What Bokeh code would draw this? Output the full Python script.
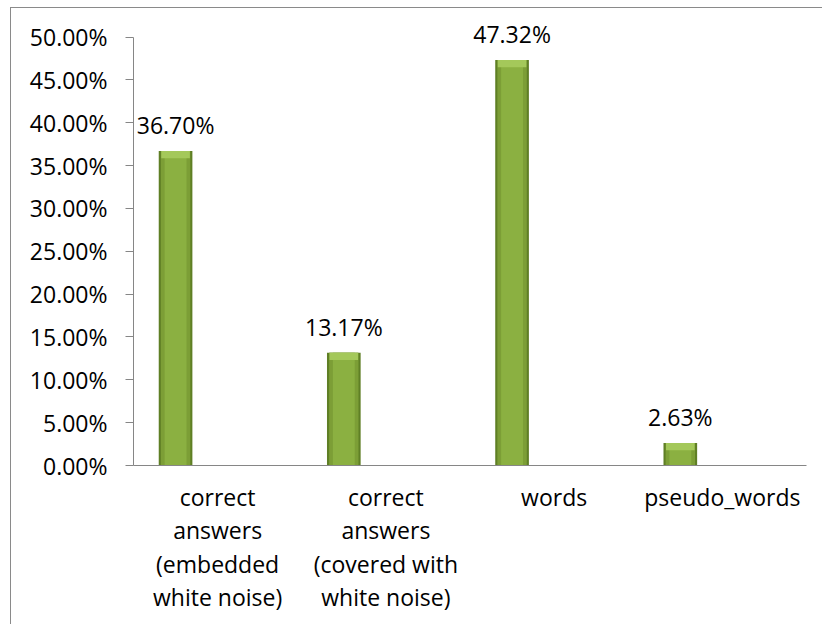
from bokeh.plotting import figure
from bokeh.models import ColumnDataSource, FactorRange, Range1d, PrintfTickFormatter, FixedTicker
from bokeh.transform import dodge
from bokeh.core.properties import value
from bokeh.embed import file_html
from bokeh.resources import INLINE

categories = ["correct\nanswers\n(embedded\nwhite noise)",
              "correct\nanswers\n(covered with\nwhite noise)",
              "words",
              "pseudo_words"]
values = [36.70, 13.17, 47.32, 2.63]
value_labels = ["36.70%", "13.17%", "47.32%", "2.63%"]
y_ticks = [0, 5, 10, 15, 20, 25, 30, 35, 40, 45, 50]

FONT = "Open Sans"
FS = "23px"
GRAY = "#868686"

src = ColumnDataSource(dict(
    cat=categories, val=values, lab=value_labels,
    bev=[v - 0.85 for v in values],
))

p = figure(x_range=FactorRange(*categories, range_padding=0),
           y_range=Range1d(0, 53.1),
           width=812, height=617,
           output_backend="svg", toolbar_location=None,
           min_border_left=122, min_border_right=17,
           min_border_top=2, min_border_bottom=160,
           styles={"margin-left": "10px", "margin-top": "7px",
                   "border-top": "1px solid #8a8a8a",
                   "border-left": "1px solid #8a8a8a"})
p.outline_line_color = None
p.xgrid.grid_line_color = None
p.ygrid.grid_line_color = None
p.background_fill_color = "white"
p.border_fill_color = "white"

xd = dodge("cat", -0.25, range=p.x_range)
p.vbar(x=xd, top="val", bottom=0, width=0.2, source=src,
       fill_color="#5F7F25", line_color=None)
p.vbar(x=xd, top="val", bottom=0, width=0.175, source=src,
       fill_color="#7C9E36", line_color=None)
p.vbar(x=xd, top="val", bottom=0, width=0.13, source=src,
       fill_color="#8BB041", line_color=None)
p.vbar(x=xd, top="val", bottom="bev", width=0.17, source=src,
       fill_color="#A4C85A", line_color=None)

p.text(x=xd, y="val", text="lab", source=src,
       text_align="center", text_baseline="alphabetic", y_offset=-26,
       text_font=value(FONT), text_font_size=FS, text_color="black")

ya = p.yaxis[0]
ya.ticker = FixedTicker(ticks=y_ticks)
ya.bounds = (0, 50)
ya.formatter = PrintfTickFormatter(format="%.2f%%")
ya.axis_line_color = GRAY
ya.major_tick_line_color = GRAY
ya.major_tick_out = 8
ya.major_tick_in = 0
ya.minor_tick_line_color = None
ya.major_label_standoff = 18
ya.major_label_text_font = FONT
ya.major_label_text_font_size = FS
ya.major_label_text_color = "black"

xa = p.xaxis[0]
xa.axis_line_color = GRAY
xa.major_tick_line_color = None
xa.minor_tick_line_color = None
xa.major_label_standoff = 9
xa.major_label_text_font = FONT
xa.major_label_text_font_size = FS
xa.major_label_text_color = "black"
xa.major_label_text_line_height = 1.05
xa.major_label_orientation = "horizontal"

open("out.html", "w").write(file_html(p, INLINE))
